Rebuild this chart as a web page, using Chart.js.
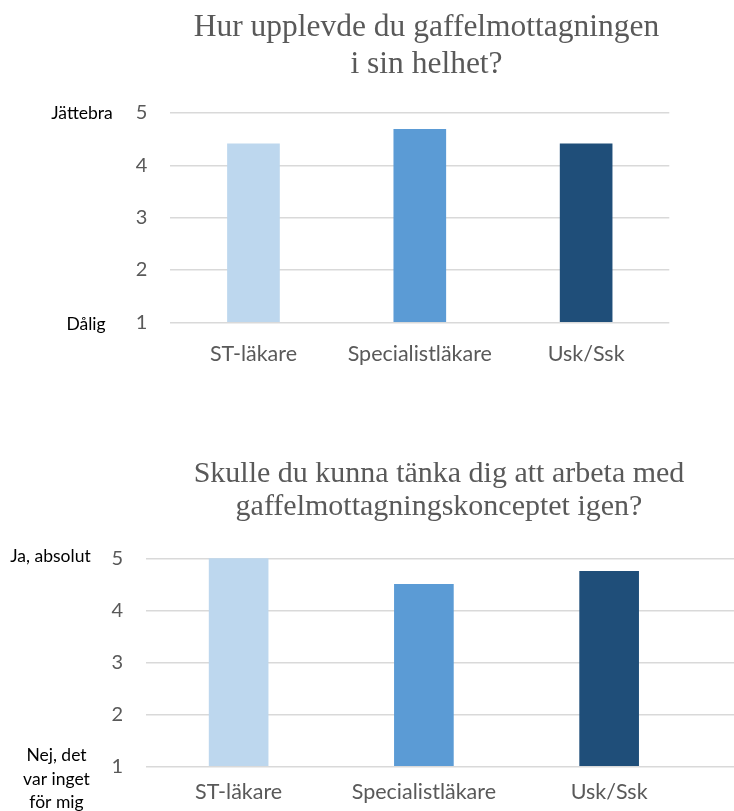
<!DOCTYPE html>
<html lang="sv">
<head>
<meta charset="utf-8">
<title>Gaffelmottagning – enkät</title>
<script src="https://cdn.jsdelivr.net/npm/chart.js@4.4.1/dist/chart.umd.min.js"></script>
<style>
  html, body { margin: 0; padding: 0; background: #ffffff; }
  body { width: 734px; height: 811px; position: relative; overflow: hidden; }
  canvas { position: absolute; left: 0; display: block; }
  #c1 { top: 0; }
  #c2 { top: 420px; }
</style>
</head>
<body>
<canvas id="c1" width="734" height="420"></canvas>
<canvas id="c2" width="734" height="391"></canvas>
<script>
// Yrkesgrupper och medelbetyg (skala 1–5)
const categories = ['ST-läkare', 'Specialistläkare', 'Usk/Ssk'];
const helhetValues = [4.41, 4.69, 4.41];
const igenValues = [5.0, 4.5, 4.75];
const scaleTicks = [1, 2, 3, 4, 5];

const title1 = ['Hur upplevde du gaffelmottagningen', 'i sin helhet?'];
const title2 = ['Skulle du kunna tänka dig att arbeta med', 'gaffelmottagningskonceptet igen?'];
const anchors1 = { top: ['Jättebra'], bottom: ['Dålig'] };
const anchors2 = { top: ['Ja, absolut'], bottom: ['Nej, det', 'var inget', 'för mig'] };

const barColors = ['#BDD7EE', '#5B9BD5', '#1F4E79'];
const gridColor = '#d9d9d9';
const tickColor = '#595959';
const sans = 'Lato, "Open Sans", sans-serif';
const serif = '"Liberation Serif", "Times New Roman", serif';

// Rubrik i två rader, centrerad kring en given x-position
const titlePlugin = {
  id: 'twoLineTitle',
  afterDraw(chart, args, opts) {
    const ctx = chart.ctx;
    ctx.save();
    ctx.fillStyle = tickColor;
    ctx.font = opts.size + 'px ' + serif;
    ctx.textAlign = 'center';
    ctx.textBaseline = 'alphabetic';
    opts.lines.forEach((line, i) => ctx.fillText(line, opts.x, opts.baselines[i]));
    ctx.restore();
  }
};

// Förklarande ord vid skalans ändpunkter (1 och 5)
const anchorPlugin = {
  id: 'scaleAnchors',
  afterDraw(chart, args, opts) {
    const ctx = chart.ctx;
    const y = chart.scales.y;
    ctx.save();
    ctx.fillStyle = '#000000';
    ctx.font = opts.size + 'px ' + sans;
    ctx.textAlign = 'center';
    ctx.textBaseline = 'alphabetic';
    const topY = y.getPixelForValue(scaleTicks[scaleTicks.length - 1]);
    const botY = y.getPixelForValue(scaleTicks[0]);
    opts.top.forEach((t, i) => ctx.fillText(t, opts.topX, topY + opts.topOffset + i * opts.lineGap));
    opts.bottom.forEach((t, i) => ctx.fillText(t, opts.bottomX, botY + opts.bottomOffset + i * opts.lineGap));
    ctx.restore();
  }
};

function yAxis(width) {
  return {
    min: scaleTicks[0],
    max: scaleTicks[scaleTicks.length - 1],
    afterBuildTicks: s => { s.ticks = scaleTicks.map(v => ({ value: v })); },
    ticks: { color: tickColor, font: { family: sans, size: 20 }, padding: 23 },
    grid: { color: gridColor, lineWidth: 1.5, drawTicks: false },
    border: { display: false },
    afterFit: s => { s.width = width; }
  };
}

// Diagram 1: helhetsupplevelse
new Chart(document.getElementById('c1'), {
  type: 'bar',
  data: {
    labels: categories,
    datasets: [{
      data: helhetValues,
      backgroundColor: barColors,
      base: scaleTicks[0],
      barThickness: 52
    }]
  },
  options: {
    responsive: false,
    animation: false,
    devicePixelRatio: 1,
    layout: { padding: { top: 113, left: 0, right: 64.7, bottom: 47.7 } },
    plugins: {
      legend: { display: false },
      tooltip: { enabled: false },
      twoLineTitle: { lines: title1, x: 426.5, baselines: [36, 73], size: 31.5 },
      scaleAnchors: {
        top: anchors1.top, bottom: anchors1.bottom,
        topX: 82, bottomX: 86, topOffset: 6.3, bottomOffset: 7.7, lineGap: 23.5, size: 17.5
      }
    },
    scales: {
      x: {
        grid: { display: false, drawTicks: false },
        border: { display: false },
        ticks: { color: tickColor, font: { family: sans, size: 21.5 }, padding: 18.5 },
        afterFit: s => { s.height = 50; }
      },
      y: yAxis(170.3)
    }
  },
  plugins: [titlePlugin, anchorPlugin]
});

// Diagram 2: vilja att arbeta med konceptet igen
new Chart(document.getElementById('c2'), {
  type: 'bar',
  data: {
    datasets: [{
      data: igenValues.map((v, i) => ({ x: i, y: v })),
      backgroundColor: barColors,
      base: scaleTicks[0],
      barThickness: 59
    }]
  },
  options: {
    responsive: false,
    animation: false,
    devicePixelRatio: 1,
    layout: { padding: { top: 138.3, left: 0, right: 0, bottom: 4.7 } },
    plugins: {
      legend: { display: false },
      tooltip: { enabled: false },
      twoLineTitle: { lines: title2, x: 439, baselines: [61.7, 95], size: 30 },
      scaleAnchors: {
        top: anchors2.top, bottom: anchors2.bottom,
        topX: 50.5, bottomX: 56.5, topOffset: 4, bottomOffset: -5.3, lineGap: 23.5, size: 17.5
      }
    },
    scales: {
      x: {
        type: 'linear',
        offset: false,
        min: -0.5,
        max: 2.674,
        afterBuildTicks: s => { s.ticks = categories.map((c, i) => ({ value: i })); },
        grid: { display: false, drawTicks: false },
        border: { display: false },
        ticks: {
          color: tickColor, font: { family: sans, size: 21.5 }, padding: 12.5,
          callback: v => categories[v]
        },
        afterFit: s => { s.height = 40; }
      },
      y: yAxis(146)
    }
  },
  plugins: [titlePlugin, anchorPlugin]
});
</script>
</body>
</html>
